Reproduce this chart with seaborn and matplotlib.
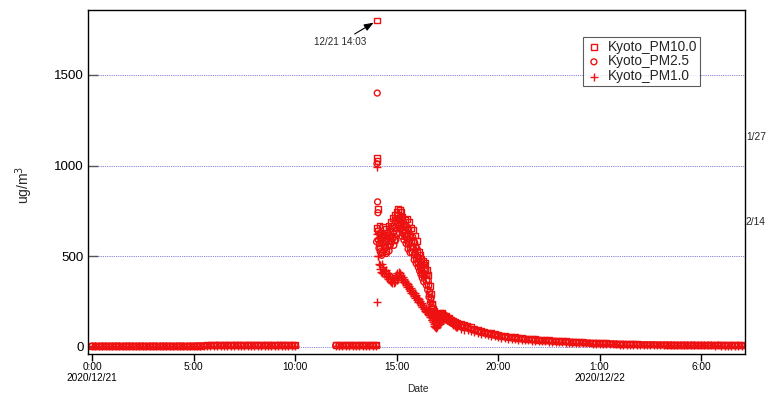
import numpy as np
import pandas as pd
import matplotlib
matplotlib.use("Agg")
import matplotlib.pyplot as plt
import matplotlib.dates as mdates
import seaborn as sns

# ---------------- data ----------------
series_names = ["Kyoto_PM10.0", "Kyoto_PM2.5", "Kyoto_PM1.0"]

# segment A: 12/21 00:00 - 10:00 (10-min samples)
pm10_a = [6,
          6, 5, 6, 6, 5, 6,
          6, 6, 5, 6, 6, 6,
          5, 6, 6, 5, 6, 6,
          6, 5, 6, 6, 6, 5,
          6, 6, 6, 5, 6, 6,
          7, 7, 8, 9, 10, 10,
          11, 10, 12, 11, 10, 11,
          12, 11, 10, 11, 12, 12,
          11, 10, 11, 12, 11, 10,
          11, 12, 11, 10, 11, 10]
pm25_a = [5,
          5, 4, 5, 5, 4, 5,
          5, 5, 4, 5, 5, 5,
          4, 5, 5, 4, 5, 5,
          5, 4, 5, 5, 5, 4,
          5, 5, 5, 4, 5, 5,
          6, 6, 7, 7, 8, 8,
          9, 8, 9, 9, 8, 9,
          9, 9, 8, 9, 9, 9,
          9, 8, 9, 9, 9, 8,
          9, 9, 9, 8, 9, 8]
pm1_a = [4,
         4, 3, 4, 4, 3, 4,
         4, 4, 3, 4, 4, 4,
         3, 4, 4, 3, 4, 4,
         4, 3, 4, 4, 4, 3,
         4, 4, 4, 3, 4, 4,
         5, 5, 5, 6, 6, 6,
         7, 6, 7, 7, 6, 7,
         7, 7, 6, 7, 7, 7,
         7, 6, 7, 7, 7, 6,
         7, 7, 7, 6, 7, 6]

# segment B: 12/21 12:00 - 14:00 (10-min samples)
pm10_b = [9, 10, 9, 10, 9, 10, 9, 9, 10, 9, 10, 9, 10]
pm25_b = [8, 8, 7, 8, 8, 8, 7, 8, 8, 7, 8, 8, 8]
pm1_b = [6, 6, 6, 7, 6, 6, 6, 6, 7, 6, 6, 6, 7]

# segment C: 14:01 - 14:05 (1-min samples), peak event
pm10_c = [655, 1040, 1800, 1025, 760]
pm25_c = [580, 1010, 1400, 800, 740]
pm1_c = [250, 620, 990, 600, 500]

# segment D: 14:06 - 18:00 (2-min samples)
pm10_d = [640, 570, 670, 540, 620, 520, 600, 660, 560, 610,
          580, 650, 530, 620, 590, 670, 560, 640, 590, 690,
          610, 710, 640, 590, 700, 730, 630, 745, 690, 760,
          710, 670, 755, 690, 745, 650, 720, 680, 630, 700,
          650, 610, 705, 630, 570, 690, 610, 550, 655, 590,
          550, 645, 580, 510, 615, 550, 490, 585, 530, 470,
          525, 450, 505, 430, 485, 410, 475, 395, 455, 430,
          465, 375, 425, 345, 395, 295, 335, 265, 290, 240,
          230, 210, 200, 190, 180, 170, 175, 165, 160, 170,
          180, 175, 190, 185, 180, 188, 176, 170, 172, 165,
          170, 160, 162, 155, 158, 150, 148, 152, 142, 140,
          138, 142, 135, 132, 136, 128, 130, 125]
pm25_d = [590, 545, 625, 525, 585, 505, 575, 620, 530, 585,
          545, 610, 515, 595, 555, 630, 530, 605, 565, 650,
          580, 665, 600, 560, 655, 690, 590, 705, 650, 725,
          670, 630, 715, 650, 705, 610, 685, 640, 590, 665,
          610, 570, 665, 590, 540, 650, 575, 520, 615, 555,
          520, 605, 545, 480, 575, 515, 460, 545, 495, 440,
          485, 420, 475, 400, 455, 380, 445, 360, 425, 395,
          425, 340, 395, 315, 365, 275, 305, 245, 270, 220,
          210, 195, 185, 175, 168, 160, 165, 155, 150, 160,
          168, 165, 178, 172, 168, 176, 165, 160, 162, 155,
          158, 150, 152, 146, 148, 141, 139, 143, 134, 132,
          130, 133, 127, 124, 128, 121, 122, 118]
pm1_d = [500, 455, 430, 450, 415, 455, 405, 440, 420, 400,
         420, 390, 425, 385, 410, 375, 400, 365, 390, 360,
         380, 350, 375, 355, 385, 360, 395, 370, 405, 380,
         415, 390, 405, 380, 395, 370, 385, 360, 375, 350,
         365, 340, 355, 330, 345, 320, 335, 310, 325, 300,
         315, 290, 305, 280, 295, 270, 285, 260, 272, 250,
         262, 240, 252, 230, 242, 220, 232, 210, 222, 200,
         212, 192, 204, 184, 194, 174, 184, 164, 174, 150,
         150, 135, 128, 118, 112, 106, 115, 110, 125, 120,
         135, 128, 145, 138, 155, 148, 162, 155, 168, 160,
         165, 156, 160, 150, 152, 143, 145, 136, 138, 130,
         128, 122, 125, 118, 120, 112, 114, 108]

# segment E: 18:10 - 12/22 08:00 (10-min samples)
pm10_e = [128, 122, 115, 108, 100, 92,
          88, 84, 80, 76, 71, 66,
          63, 61, 58, 56, 53, 51,
          49, 47, 45, 44, 42, 40,
          39, 38, 37, 35, 34, 33,
          32, 31, 30, 29, 28, 27,
          26, 25, 24, 23, 22, 21,
          21, 20, 19, 19, 18, 17,
          17, 16, 16, 15, 15, 14,
          14, 14, 13, 13, 13, 13,
          13, 12, 12, 12, 12, 12,
          12, 11, 12, 11, 11, 11,
          11, 11, 10, 11, 10, 10,
          10, 10, 10, 11, 10, 10]
pm25_e = [115, 110, 104, 98, 92, 85,
          80, 76, 72, 68, 64, 60,
          57, 55, 52, 50, 48, 46,
          44, 42, 41, 39, 38, 36,
          35, 34, 33, 32, 31, 30,
          29, 28, 27, 26, 25, 24,
          23, 22, 21, 20, 20, 19,
          18, 18, 17, 17, 16, 15,
          15, 14, 14, 14, 13, 13,
          12, 12, 12, 12, 11, 11,
          11, 11, 11, 10, 10, 10,
          10, 10, 10, 10, 9, 9,
          9, 9, 9, 9, 9, 9,
          9, 8, 9, 8, 9, 8]
pm1_e = [98, 95, 91, 86, 80, 75,
         72, 69, 65, 62, 58, 52,
         50, 48, 46, 44, 42, 40,
         39, 37, 36, 34, 33, 32,
         31, 30, 29, 28, 27, 26,
         25, 24, 24, 23, 22, 21,
         20, 19, 19, 18, 17, 16,
         16, 15, 15, 14, 14, 13,
         13, 12, 12, 12, 11, 11,
         11, 11, 10, 10, 10, 10,
         10, 10, 9, 9, 9, 9,
         9, 9, 8, 9, 8, 8,
         8, 8, 8, 7, 8, 7,
         7, 7, 7, 7, 7, 7]

times = (list(pd.date_range("2020-12-21 00:00", "2020-12-21 10:00", freq="10min"))
         + list(pd.date_range("2020-12-21 12:00", "2020-12-21 14:00", freq="10min"))
         + list(pd.date_range("2020-12-21 14:01", "2020-12-21 14:05", freq="1min"))
         + list(pd.date_range("2020-12-21 14:06", "2020-12-21 18:00", freq="2min"))
         + list(pd.date_range("2020-12-21 18:10", "2020-12-22 08:00", freq="10min")))

values = {
    "Kyoto_PM10.0": pm10_a + pm10_b + pm10_c + pm10_d + pm10_e,
    "Kyoto_PM2.5": pm25_a + pm25_b + pm25_c + pm25_d + pm25_e,
    "Kyoto_PM1.0": pm1_a + pm1_b + pm1_c + pm1_d + pm1_e,
}
for k, v in values.items():
    assert len(v) == len(times), (k, len(v), len(times))

frames = [pd.DataFrame({"Date": times, "value": values[n], "series": n}) for n in series_names]
df = pd.concat(frames, ignore_index=True)

y_ticks = [0, 500, 1000, 1500]
x_tick_times = ["2020-12-21 00:00", "2020-12-21 05:00", "2020-12-21 10:00",
                "2020-12-21 15:00", "2020-12-21 20:00", "2020-12-22 01:00",
                "2020-12-22 06:00"]
x_tick_labels = ["0:00\n2020/12/21", "5:00", "10:00", "15:00", "20:00",
                 "1:00\n2020/12/22", "6:00"]

# ---------------- plot ----------------
sns.set_theme(style="white")
plt.rcParams["font.family"] = ["Liberation Sans", "DejaVu Sans"]

fig = plt.figure(figsize=(7.67, 3.99), dpi=100)
ax = fig.add_axes([88 / 767, 1 - 354 / 399, (745 - 88) / 767, (354 - 10) / 399])

red = "#ee1111"
style = {
    "Kyoto_PM10.0": dict(marker="s", s=17, facecolor="none", edgecolor=red, linewidth=1.0),
    "Kyoto_PM2.5": dict(marker="o", s=18, facecolor="none", edgecolor=red, linewidth=1.0),
    "Kyoto_PM1.0": dict(marker="+", s=30, color=red, linewidth=1.0),
}
for n in series_names:
    sub = df[df["series"] == n]
    sns.scatterplot(data=sub, x="Date", y="value", ax=ax, label=n, **style[n])

# grid
for yv in y_ticks:
    ax.axhline(yv, color="#5a5ac8", linestyle=(0, (1, 1.2)), linewidth=0.6, zorder=0)

ax.set_ylim(-39, 1858)
ax.set_xlim(pd.Timestamp("2020-12-20 23:48"), pd.Timestamp("2020-12-22 08:10"))

ax.set_yticks(y_ticks)
ax.set_yticklabels([str(v) for v in y_ticks], fontsize=9.6)
ax.set_xticks([mdates.date2num(pd.Timestamp(t)) for t in x_tick_times])
ax.set_xticklabels(x_tick_labels, fontsize=7.3, linespacing=1.05)
ax.xaxis.set_minor_locator(mdates.MinuteLocator(byminute=[0, 30]))
ax.tick_params(axis="x", which="major", direction="out", length=5, width=1, colors="black", pad=1)
ax.tick_params(axis="x", which="minor", direction="out", length=3, width=0.6, colors="black")
ax.tick_params(axis="y", which="major", direction="in", length=7, width=1, colors="#555555",
               labelcolor="black", pad=3)
ax.tick_params(axis="both", bottom=True, left=True)

for sp in ax.spines.values():
    sp.set_visible(True)
    sp.set_color("black")
    sp.set_linewidth(1.0)

ax.set_xlabel("Date", fontsize=7.4)
ax.xaxis.set_label_coords((418 - 88) / (745 - 88), -0.088)
ax.set_ylabel("ug/m$^3$", fontsize=10)
ax.yaxis.set_label_coords((35 - 88) / 657, (354 - 185) / 344)

# annotation of the maximum
ax.annotate("12/21 14:03", xy=(pd.Timestamp("2020-12-21 14:03"), 1800),
            xytext=(pd.Timestamp("2020-12-21 12:12"), 1680),
            fontsize=7.1, ha="center", va="center",
            arrowprops=dict(arrowstyle="-|>,head_length=0.8,head_width=0.3",
                            color="black", lw=0.8, shrinkA=0, shrinkB=3,
                            relpos=(0.68, 1.0)))

# stray labels on the right edge
fig.text(746 / 767, 1 - 137 / 399, "1/27", fontsize=7.4, ha="left", va="center")
fig.text(746 / 767, 1 - 222 / 399, "2/14", fontsize=7.4, ha="left", va="center")

leg = ax.legend(loc="upper left", bbox_to_anchor=((583 - 88) / 657, (354 - 37) / 344),
                fontsize=9.8, frameon=True, fancybox=False, borderpad=0.2,
                handletextpad=0.4, labelspacing=0.05, handlelength=1.2, borderaxespad=0)
leg.get_frame().set_edgecolor("#333333")
leg.get_frame().set_linewidth(0.8)

fig.savefig("out.png", dpi=100)
